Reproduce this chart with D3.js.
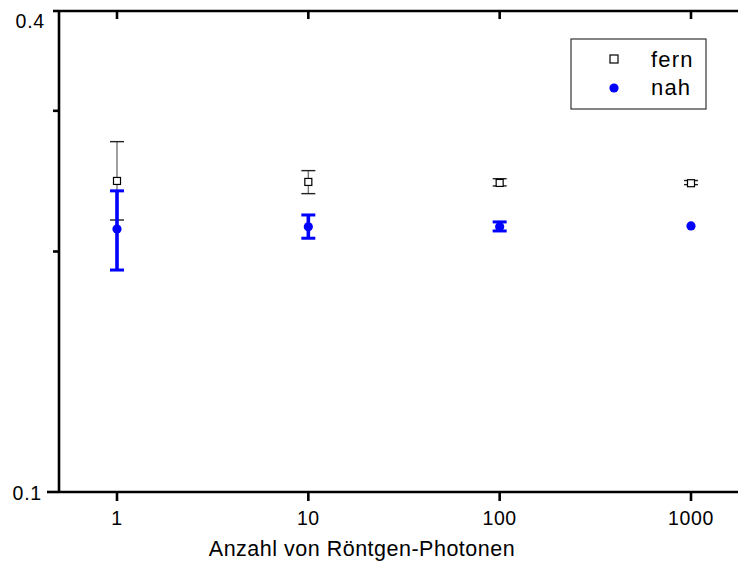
<!DOCTYPE html>
<html>
<head>
<meta charset="utf-8">
<script src="https://cdn.jsdelivr.net/npm/d3@7"></script>
<style>
  html, body { margin: 0; padding: 0; background: #fff; }
  svg { display: block; }
  text { font-family: "Liberation Sans", Arial, sans-serif; fill: #000; }
</style>
</head>
<body>
<svg id="chart" width="738" height="562"></svg>
<script>
// ---- data ----
const xValues = [1, 10, 100, 1000];
const xTickLabels = ["1", "10", "100", "1000"];
const yTickValues = [0.1, 0.2, 0.3, 0.4];
const yTickLabels = ["0.1", "", "", "0.4"];

const fernMean = [0.2451, 0.2444, 0.2437, 0.2435];
const fernLow  = [0.2190, 0.2363, 0.2416, 0.2425];
const fernHigh = [0.2745, 0.2525, 0.2467, 0.2454];

const nahMean = [0.2134, 0.2148, 0.2148, 0.2153];
const nahLow  = [0.1896, 0.2078, 0.2122, 0.2153];
const nahHigh = [0.2382, 0.2222, 0.2178, 0.2153];

const seriesNames = ["fern", "nah"];
const xTitle = "Anzahl von Röntgen-Photonen";

// ---- layout ----
const svg = d3.select("#chart");
const plotLeft = 59, plotTop = 11, plotBottom = 492, plotRightEdge = 738;

const x = d3.scaleLog().domain([1, 1000]).range([117, 691]);
const y = d3.scaleLog().domain([0.1, 0.4]).range([plotBottom, plotTop]);

const axisW = 2.6;
const tickFont = 19.5;

// axis frame lines
svg.append("line").attr("x1", plotLeft).attr("x2", plotLeft).attr("y1", plotTop - 1).attr("y2", plotBottom + 1)
  .attr("stroke", "#000").attr("stroke-width", axisW);
svg.append("line").attr("x1", plotLeft).attr("x2", plotRightEdge).attr("y1", plotTop).attr("y2", plotTop)
  .attr("stroke", "#000").attr("stroke-width", axisW);
svg.append("line").attr("x1", plotLeft).attr("x2", plotRightEdge).attr("y1", plotBottom).attr("y2", plotBottom)
  .attr("stroke", "#000").attr("stroke-width", axisW);

// y ticks (outward)
yTickValues.forEach((v, i) => {
  const len = (i === 0) ? 12 : 6;
  svg.append("line").attr("x1", plotLeft - len).attr("x2", plotLeft).attr("y1", y(v)).attr("y2", y(v))
    .attr("stroke", "#000").attr("stroke-width", axisW);
});
// y labels
svg.append("text").attr("x", 45).attr("y", y(0.4) + 16.5).attr("text-anchor", "end")
  .attr("font-size", tickFont).attr("letter-spacing", 0.8).text(yTickLabels[3]);
svg.append("text").attr("x", 42).attr("y", y(0.1) + 7.5).attr("text-anchor", "end")
  .attr("font-size", tickFont).attr("letter-spacing", 0.8).text(yTickLabels[0]);

// x ticks: bottom (outward) and top (inward)
xValues.forEach((v, i) => {
  svg.append("line").attr("x1", x(v)).attr("x2", x(v)).attr("y1", plotBottom).attr("y2", plotBottom + 9)
    .attr("stroke", "#000").attr("stroke-width", axisW);
  svg.append("line").attr("x1", x(v)).attr("x2", x(v)).attr("y1", plotTop).attr("y2", plotTop + 8)
    .attr("stroke", "#000").attr("stroke-width", axisW);
  svg.append("text").attr("x", x(v)).attr("y", 524.5).attr("text-anchor", "middle")
    .attr("font-size", tickFont).attr("letter-spacing", 0.6).text(xTickLabels[i]);
});

// x title
svg.append("text").attr("x", 362).attr("y", 556).attr("text-anchor", "middle")
  .attr("font-size", 21.5).attr("letter-spacing", 0.5).text(xTitle);

// ---- fern error bars ----
const capHalf = 7;
const gF = svg.append("g");
xValues.forEach((v, i) => {
  const cx = x(v);
  if (fernHigh[i] === fernLow[i]) return;
  gF.append("line").attr("x1", cx).attr("x2", cx).attr("y1", y(fernLow[i])).attr("y2", y(fernHigh[i]))
    .attr("stroke", "#777").attr("stroke-width", 1.4);
  [fernLow[i], fernHigh[i]].forEach(e => {
    gF.append("line").attr("x1", cx - capHalf).attr("x2", cx + capHalf).attr("y1", y(e)).attr("y2", y(e))
      .attr("stroke", "#222").attr("stroke-width", 1.4);
  });
});

// ---- nah error bars ----
const gN = svg.append("g");
xValues.forEach((v, i) => {
  const cx = x(v);
  if (nahHigh[i] === nahLow[i]) return;
  gN.append("line").attr("x1", cx).attr("x2", cx).attr("y1", y(nahLow[i])).attr("y2", y(nahHigh[i]))
    .attr("stroke", "#0000ff").attr("stroke-width", 3.6);
  [nahLow[i], nahHigh[i]].forEach(e => {
    gN.append("line").attr("x1", cx - capHalf).attr("x2", cx + capHalf).attr("y1", y(e)).attr("y2", y(e))
      .attr("stroke", "#0000ff").attr("stroke-width", 3);
  });
});

// fern markers
const sq = 7;
xValues.forEach((v, i) => {
  gF.append("rect").attr("x", x(v) - sq / 2).attr("y", y(fernMean[i]) - sq / 2)
    .attr("width", sq).attr("height", sq)
    .attr("fill", "#fff").attr("stroke", "#000").attr("stroke-width", 1.2);
});
// nah markers
xValues.forEach((v, i) => {
  gN.append("circle").attr("cx", x(v)).attr("cy", y(nahMean[i])).attr("r", 4.6)
    .attr("fill", "#0000ff");
});

// ---- legend ----
const lg = svg.append("g");
lg.append("rect").attr("x", 571).attr("y", 39).attr("width", 135).attr("height", 70)
  .attr("fill", "#fff").attr("stroke", "#333").attr("stroke-width", 1.2);
lg.append("rect").attr("x", 614 - 4).attr("y", 59 - 4).attr("width", 8).attr("height", 8)
  .attr("fill", "#fff").attr("stroke", "#000").attr("stroke-width", 1.2);
lg.append("circle").attr("cx", 614).attr("cy", 88).attr("r", 4.6).attr("fill", "#0000ff");
lg.append("text").attr("x", 651).attr("y", 67).attr("font-size", 22).attr("letter-spacing", 1.2).text(seriesNames[0]);
lg.append("text").attr("x", 651).attr("y", 95).attr("font-size", 22).attr("letter-spacing", 1.2).text(seriesNames[1]);
</script>
</body>
</html>
